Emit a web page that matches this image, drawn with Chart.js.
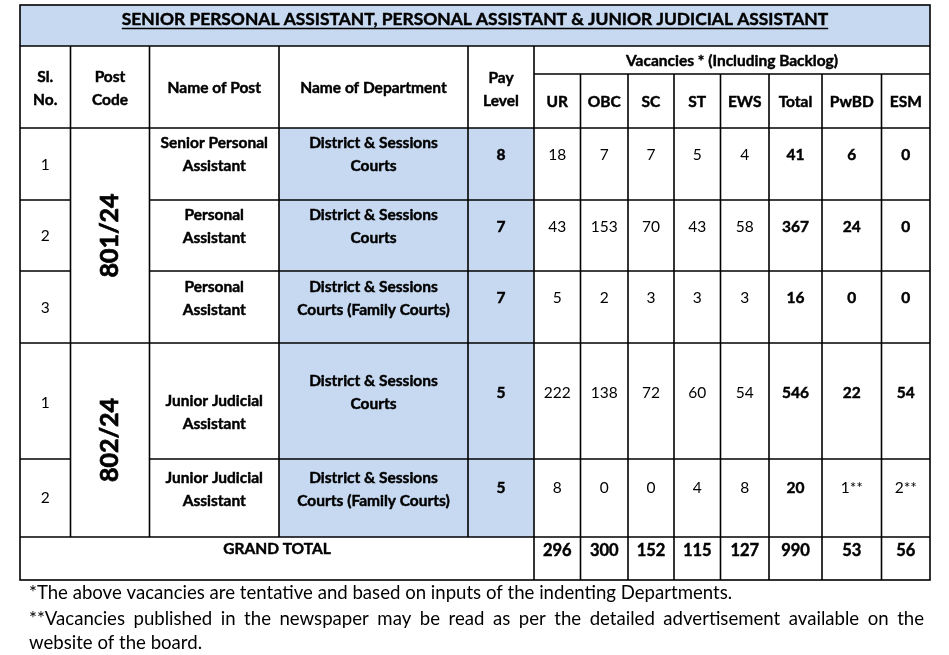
<!DOCTYPE html>
<html>
<head>
<meta charset="utf-8">
<script src="https://cdn.jsdelivr.net/npm/chart.js@4"></script>
<style>
  html, body { margin: 0; padding: 0; background: #fff; }
  canvas { display: block; }
</style>
</head>
<body>
<canvas id="vacancyTable" width="949" height="655"></canvas>
<script>
// table data
const tableTitle = "SENIOR PERSONAL ASSISTANT, PERSONAL ASSISTANT & JUNIOR JUDICIAL ASSISTANT";
const slNo = ["1", "2", "3", "1", "2"];
const postCodes = ["801/24", "802/24"];
const postCodeRows = [[0, 2], [3, 4]]; // first and last row of each merged post code
const postNames = [
    "Senior Personal\nAssistant",
    "Personal\nAssistant",
    "Personal\nAssistant",
    "Junior Judicial\nAssistant",
    "Junior Judicial\nAssistant"
];
const departments = [
    "District & Sessions\nCourts",
    "District & Sessions\nCourts",
    "District & Sessions\nCourts (Family Courts)",
    "District & Sessions\nCourts",
    "District & Sessions\nCourts (Family Courts)"
];
const payLevels = ["8", "7", "7", "5", "5"];
const vacancyCategories = ["UR", "OBC", "SC", "ST", "EWS", "Total", "PwBD", "ESM"];
const ur = ["18", "43", "5", "222", "8"];
const obc = ["7", "153", "2", "138", "0"];
const sc = ["7", "70", "3", "72", "0"];
const st = ["5", "43", "3", "60", "4"];
const ews = ["4", "58", "3", "54", "8"];
const total = ["41", "367", "16", "546", "20"];
const pwbd = ["6", "24", "0", "22", "1**"];
const esm = ["0", "0", "0", "54", "2**"];
const grandTotal = ["296", "300", "152", "115", "127", "990", "53", "56"];
const footnotes = [
    "*The above vacancies are tentative and based on inputs of the indenting Departments.",
    "**Vacancies published in the newspaper may be read as per the detailed advertisement available on the",
    "website of the board."
];

const vacancyColumns = [ur, obc, sc, st, ews, total, pwbd, esm];

// layout (in scale units, same as page pixels)
const colEdges = [20, 70.5, 149.5, 279, 468, 534, 580.5, 628, 674, 720.5, 769, 822, 881.5, 930];
const titleBottom = 46, subHeadTop = 74;
const rowEdges = [128, 200, 271, 343, 459, 537, 580];
const slY = [165, 236, 308, 403, 498];
const postY = [143, 215, 287, 401, 478];
const deptY = [143, 215, 287, 381, 478];
const numY = [155, 227, 298, 393, 488];
const blue = "#c6d9f1";
const FONT = "Lato, 'Open Sans', sans-serif";

const tablePlugin = {
    id: "tablePlugin",
    afterDraw(chart) {
        const ctx = chart.ctx;
        const xs = chart.scales.x, ys = chart.scales.y;
        const X = v => xs.getPixelForValue(v);
        const Y = v => ys.getPixelForValue(v);

        function text(str, x, y, size, bold, align) {
            ctx.font = (bold ? "bold " : "") + size + "px " + FONT;
            ctx.fillStyle = "#000";
            ctx.textAlign = align || "center";
            ctx.textBaseline = "middle";
            ctx.fillText(str, X(x), Y(y));
            if (bold) { // thicken a little, like the original heavy bold
                ctx.strokeStyle = "#000";
                ctx.lineWidth = 0.45;
                ctx.strokeText(str, X(x), Y(y));
            }
        }
        function lines(str, x, y, size, bold) {
            str.split("\n").forEach((s, i) => text(s, x, y + i * 23, size, bold));
        }
        function fillRect(x0, y0, x1, y1, color) {
            ctx.fillStyle = color;
            ctx.fillRect(X(x0), Y(y0), X(x1) - X(x0), Y(y1) - Y(y0));
        }
        function line(x0, y0, x1, y1) {
            ctx.beginPath();
            ctx.moveTo(X(x0), Y(y0));
            ctx.lineTo(X(x1), Y(y1));
            ctx.stroke();
        }
        const mid = i => (colEdges[i] + colEdges[i + 1]) / 2;
        const L = colEdges[0], R = colEdges[colEdges.length - 1];
        const top = 5, bottom = rowEdges[rowEdges.length - 1];

        // backgrounds
        fillRect(L, top, R, titleBottom, blue);
        fillRect(colEdges[3], rowEdges[0], colEdges[5], rowEdges[5], blue);

        // grid
        function grid() {
            ctx.strokeStyle = "#000";
            ctx.lineWidth = 1.6;
            ctx.strokeRect(X(L), Y(top), X(R) - X(L), Y(bottom) - Y(top));
            line(L, titleBottom, R, titleBottom);
            line(colEdges[5], subHeadTop, R, subHeadTop);
            for (let i = 0; i < rowEdges.length - 1; i++) {
                const y = rowEdges[i];
                const inGroup = postCodeRows.some(g => i > g[0] && i <= g[1]);
                if (inGroup) {
                    line(L, y, colEdges[1], y);
                    line(colEdges[2], y, R, y);
                } else {
                    line(L, y, R, y);
                }
            }
            for (let c = 1; c < colEdges.length - 1; c++) {
                const y0 = c > 5 ? subHeadTop : titleBottom;
                const y1 = c >= 5 ? bottom : rowEdges[5];
                line(colEdges[c], y0, colEdges[c], y1);
            }
        }
        grid();

        // title
        text(tableTitle, (L + R) / 2, 19, 17.4, true);
        ctx.font = "bold 17.4px " + FONT;
        const tw = ctx.measureText(tableTitle).width;
        ctx.lineWidth = 1.6;
        line((L + R) / 2 - tw / 2, 28.5, (L + R) / 2 + tw / 2, 28.5);

        // header
        lines("Sl.\nNo.", mid(0), 77, 15.5, true);
        lines("Post\nCode", mid(1), 77, 15.5, true);
        text("Name of Post", mid(2), 88, 15.5, true);
        text("Name of Department", mid(3), 88, 15.5, true);
        lines("Pay\nLevel", mid(4), 78, 15.5, true);
        text("Vacancies * (Including Backlog)", (colEdges[5] + R) / 2, 61, 15.5, true);
        vacancyCategories.forEach((cat, j) => text(cat, mid(5 + j), 102, 15.5, true));

        // body rows
        slNo.forEach((s, i) => {
            text(s, mid(0), slY[i], 15.5, false);
            lines(postNames[i], mid(2), postY[i], 15.5, true);
            lines(departments[i], mid(3), deptY[i], 15.5, true);
            text(payLevels[i], mid(4), numY[i], 15.5, true);
            vacancyColumns.forEach((col, j) => {
                const v = col[i];
                const bold = j >= 5 && v.indexOf("*") < 0;
                text(v, mid(5 + j), numY[i], 15.5, bold);
            });
        });

        // merged post codes, rotated
        postCodes.forEach((code, k) => {
            const g = postCodeRows[k];
            const cy = (rowEdges[g[0]] + rowEdges[g[1] + 1]) / 2;
            ctx.save();
            ctx.translate(X(mid(1)), Y(cy));
            ctx.rotate(-Math.PI / 2);
            ctx.font = "bold 25px " + FONT;
            ctx.fillStyle = "#000";
            ctx.strokeStyle = "#000";
            ctx.lineWidth = 0.7;
            ctx.textAlign = "center";
            ctx.textBaseline = "middle";
            ctx.fillText(code, 0, 0);
            ctx.strokeText(code, 0, 0);
            ctx.restore();
        });

        // grand total
        text("GRAND TOTAL", (L + colEdges[5]) / 2, 549, 15.5, true);
        grandTotal.forEach((v, j) => text(v, mid(5 + j), 551, 16.5, true));

        // footnotes
        const fs = 18.6;
        text(footnotes[0], 29, 593, fs, false, "left");
        // justified second line
        ctx.font = fs + "px " + FONT;
        const words = footnotes[1].split(" ");
        const widths = words.map(w => ctx.measureText(w).width);
        const sum = widths.reduce((a, b) => a + b, 0);
        const gap = (X(924) - X(29) - sum) / (words.length - 1);
        let px = X(29);
        words.forEach((w, i) => {
            ctx.textAlign = "left";
            ctx.textBaseline = "middle";
            ctx.fillStyle = "#000";
            ctx.fillText(w, px, Y(619));
            px += widths[i] + gap;
        });
        text(footnotes[2], 29, 643, fs, false, "left");
    }
};

new Chart(document.getElementById("vacancyTable").getContext("2d"), {
    type: "scatter",
    data: { datasets: [] },
    options: {
        responsive: false,
        animation: false,
        layout: { padding: { left: 20, right: 19, top: 5, bottom: 0 } },
        plugins: { legend: { display: false }, tooltip: { enabled: false } },
        scales: {
            x: { type: "linear", min: 20, max: 930, display: false },
            y: { type: "linear", min: 5, max: 655, reverse: true, display: false }
        }
    },
    plugins: [tablePlugin]
});
</script>
</body>
</html>
